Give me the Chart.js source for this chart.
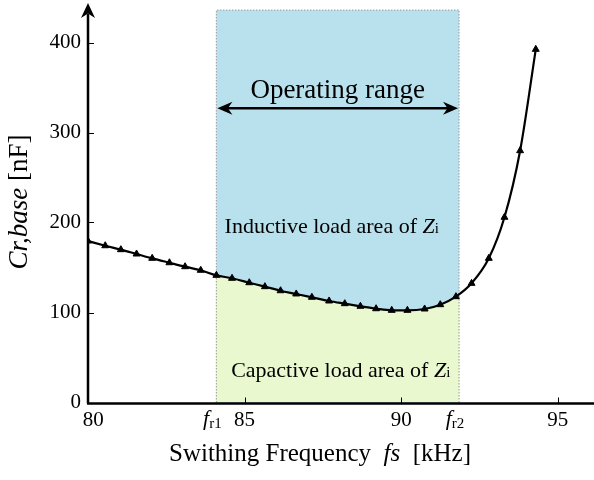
<!DOCTYPE html>
<html>
<head>
<meta charset="utf-8">
<script src="https://cdn.jsdelivr.net/npm/chart.js@4.4.1/dist/chart.umd.min.js"></script>
<style>
  html, body { margin: 0; padding: 0; background: #fff; }
  #wrap { width: 594px; height: 480px; }
</style>
</head>
<body>
<div id="wrap"><canvas id="capChart" width="594" height="480"></canvas></div>
<script>
// Data
const freqs = [80.0, 80.55, 81.05, 81.55, 82.05, 82.6, 83.1, 83.6, 84.1, 84.6,
  85.15, 85.65, 86.15, 86.65, 87.15, 87.7, 88.2, 88.7, 89.2, 89.7,
  90.2, 90.75, 91.25, 91.75, 92.25, 92.8, 93.3, 93.8, 94.3];
const caps = [179.4, 174.2, 169.8, 165.0, 160.2, 155.3, 150.9, 146.9, 141.3, 138.0,
  133.1, 128.7, 124.2, 120.6, 116.9, 112.8, 109.8, 106.9, 104.2, 102.4,
  102.4, 103.9, 108.7, 117.6, 132.4, 160.2, 205.8, 279.8, 392.4];
const xTicks = [80, 85, 90, 95];
const yTicks = [0, 100, 200, 300, 400];
const resonance = [84.1, 91.85];   // fr1, fr2
const resonanceLabels = ['r1', 'r2'];
const bandTop = 436;

const SERIF = '"Liberation Serif", "Times New Roman", serif';
const blue = '#b8e0ed';
const green = '#e9f8cf';

// green fill only between fr1 and fr2
function greenBand(context) {
  const chart = context.chart;
  const area = chart.chartArea;
  if (!area) return green;
  const x = chart.scales.x;
  const w = area.right - area.left;
  const a = (x.getPixelForValue(resonance[0]) - area.left) / w;
  const b = (x.getPixelForValue(resonance[1]) - area.left) / w;
  const g = chart.ctx.createLinearGradient(area.left, 0, area.right, 0);
  g.addColorStop(0, 'rgba(0,0,0,0)');
  g.addColorStop(Math.max(0, a - 0.0001), 'rgba(0,0,0,0)');
  g.addColorStop(a, green);
  g.addColorStop(b, green);
  g.addColorStop(Math.min(1, b + 0.0001), 'rgba(0,0,0,0)');
  g.addColorStop(1, 'rgba(0,0,0,0)');
  return g;
}

function drawPieces(ctx, pieces, x, y) {
  // pieces: [text, font, dy]
  let total = 0;
  pieces.forEach(p => { ctx.font = p[1]; total += ctx.measureText(p[0]).width; });
  let cx = x - total / 2;
  pieces.forEach(p => {
    ctx.font = p[1];
    ctx.fillText(p[0], cx, y + (p[2] || 0));
    cx += ctx.measureText(p[0]).width;
  });
}

function arrowHead(ctx, x, y, dir, len, half) {
  // dir: unit vector the tip points to
  const [dx, dy] = dir;
  const px = -dy, py = dx;
  ctx.beginPath();
  ctx.moveTo(x, y);
  ctx.lineTo(x - dx * len + px * half, y - dy * len + py * half);
  ctx.lineTo(x - dx * len * 0.7, y - dy * len * 0.7);
  ctx.lineTo(x - dx * len - px * half, y - dy * len - py * half);
  ctx.closePath();
  ctx.fill();
}

const decor = {
  id: 'decor',
  beforeDraw(chart) {
    const { ctx, scales: { x, y } } = chart;
    const x1 = x.getPixelForValue(resonance[0]);
    const x2 = x.getPixelForValue(resonance[1]);
    ctx.save();
    ctx.fillStyle = blue;
    ctx.fillRect(x1, y.getPixelForValue(bandTop), x2 - x1, y.getPixelForValue(0) - y.getPixelForValue(bandTop) + 1);
    ctx.restore();
  },
  beforeDatasetsDraw(chart) {
    const { ctx, scales: { x, y } } = chart;
    const x1 = x.getPixelForValue(resonance[0]);
    const x2 = x.getPixelForValue(resonance[1]);
    const top = y.getPixelForValue(bandTop);
    const bot = y.getPixelForValue(0);
    ctx.save();
    ctx.strokeStyle = '#a8a8a8';
    ctx.lineWidth = 1.2;
    ctx.setLineDash([1.5, 1.5]);
    ctx.beginPath();
    ctx.moveTo(x1, bot); ctx.lineTo(x1, top); ctx.lineTo(x2, top); ctx.lineTo(x2, bot);
    ctx.stroke();
    ctx.restore();
  },
  afterDraw(chart) {
    const { ctx, chartArea: area, scales: { x, y } } = chart;
    const x1 = x.getPixelForValue(resonance[0]);
    const x2 = x.getPixelForValue(resonance[1]);
    const mid = (x1 + x2) / 2;
    const left = area.left, bot = area.bottom + 1;
    ctx.save();
    ctx.fillStyle = '#000';
    ctx.strokeStyle = '#000';

    // axes
    ctx.lineWidth = 2.5;
    ctx.beginPath();
    ctx.moveTo(left, bot); ctx.lineTo(left, 14);
    ctx.moveTo(left - 1, bot); ctx.lineTo(chart.width, bot);
    ctx.stroke();
    arrowHead(ctx, left, 3, [0, -1], 15, 7);

    // tick marks pointing inward
    ctx.lineWidth = 1;
    ctx.beginPath();
    yTicks.filter(v => v > 0).forEach(v => {
      const py = Math.round(y.getPixelForValue(v)) + 0.5;
      ctx.moveTo(left, py); ctx.lineTo(left + 6, py);
    });
    xTicks.filter(v => v > 80).forEach(v => {
      const px = Math.round(x.getPixelForValue(v)) + 0.5;
      ctx.moveTo(px, bot); ctx.lineTo(px, bot - 6);
    });
    ctx.stroke();

    // operating range double arrow
    const ay = y.getPixelForValue(327);
    ctx.lineWidth = 2.5;
    ctx.beginPath();
    ctx.moveTo(x1 + 8, ay); ctx.lineTo(x2 - 8, ay);
    ctx.stroke();
    arrowHead(ctx, x1 + 1, ay, [-1, 0], 15, 6.5);
    arrowHead(ctx, x2 - 1, ay, [1, 0], 15, 6.5);

    ctx.textBaseline = 'alphabetic';
    ctx.textAlign = 'left';
    drawPieces(ctx, [['Operating range', '27px ' + SERIF]], mid, y.getPixelForValue(338));
    drawPieces(ctx, [['Inductive load area of ', '22px ' + SERIF], ['Z', 'italic 22px ' + SERIF], ['i', '15px ' + SERIF]],
      mid - 6, y.getPixelForValue(188));
    drawPieces(ctx, [['Capactive load area of ', '22px ' + SERIF], ['Z', 'italic 22px ' + SERIF], ['i', '15px ' + SERIF]],
      mid + 3, y.getPixelForValue(28));

    // fr1 / fr2 labels under the axis
    resonance.forEach((f, i) => {
      const px = x.getPixelForValue(f);
      drawPieces(ctx, [['f', 'italic 22px ' + SERIF], [resonanceLabels[i], '15px ' + SERIF, 3]], px - 4, 425);
    });

    // axis titles
    drawPieces(ctx, [['Swithing Frequency  ', '25px ' + SERIF], ['fs', 'italic 25px ' + SERIF], ['  [kHz]', '25px ' + SERIF]],
      320, 461);
    ctx.translate(27, 202);
    ctx.rotate(-Math.PI / 2);
    drawPieces(ctx, [['Cr,base', 'italic 27px ' + SERIF], [' [nF]', '27px ' + SERIF]], 0, 0);
    ctx.restore();
  }
};

function noPad(s) {
  s.paddingTop = 0; s.paddingBottom = 0; s.paddingLeft = 0; s.paddingRight = 0;
}

const ctx = document.getElementById('capChart').getContext('2d');
const chart = new Chart(ctx, {
  type: 'line',
  data: {
    datasets: [{
      data: freqs.map((f, i) => ({ x: f, y: caps[i] })),
      borderColor: '#000',
      borderWidth: 2.2,
      backgroundColor: greenBand,
      fill: 'origin',
      cubicInterpolationMode: 'monotone',
      pointStyle: 'triangle',
      pointRadius: 4,
      pointBackgroundColor: '#000',
      pointBorderColor: '#000',
      pointBorderWidth: 1
    }]
  },
  options: {
    responsive: false,
    animation: false,
    layout: { padding: { top: 6.5, right: 2, left: 0, bottom: 0 } },
    plugins: {
      legend: { display: false },
      tooltip: { enabled: false },
      filler: { drawTime: 'beforeDatasetsDraw' }
    },
    scales: {
      x: {
        type: 'linear',
        min: 80,
        max: 96,
        grid: { display: false, drawTicks: false },
        border: { display: false },
        afterBuildTicks: s => { s.ticks = xTicks.map(v => ({ value: v })); },
        afterFit: s => { s.height = 77.5; noPad(s); },
        ticks: {
          padding: 5,
          color: '#000',
          font: { family: SERIF, size: 21 },
          callback: (v, i) => (i === 0 ? '  ' : '') + v
        }
      },
      y: {
        min: 0,
        max: 440,
        grid: { display: false, drawTicks: false },
        border: { display: false },
        afterBuildTicks: s => { s.ticks = yTicks.map(v => ({ value: v })); },
        afterFit: s => { s.width = 88; noPad(s); },
        ticks: {
          padding: 7,
          color: '#000',
          font: { family: SERIF, size: 21 }
        }
      }
    }
  },
  plugins: [decor]
});
</script>
</body>
</html>
